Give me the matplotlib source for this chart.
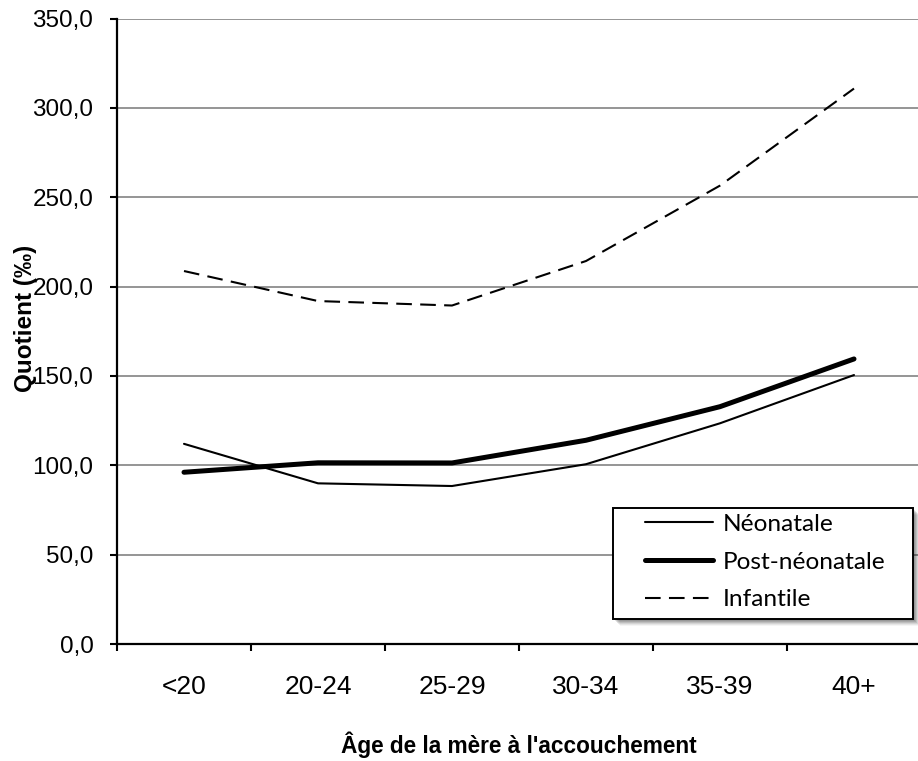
import matplotlib
matplotlib.use("Agg")
import matplotlib.pyplot as plt
from matplotlib.ticker import FixedLocator, FuncFormatter
from matplotlib.patches import Rectangle

# Quotients de mortalité (‰) selon l'âge de la mère
age_groups = ["<20", "20-24", "25-29", "30-34", "35-39", "40+"]
neonatale = [112.0, 89.9, 88.4, 100.6, 123.5, 150.5]
post_neonatale = [96.1, 101.4, 101.3, 114.0, 132.8, 159.5]
infantile = [208.7, 191.9, 189.4, 214.3, 256.5, 310.8]
y_ticks = [0, 50, 100, 150, 200, 250, 300, 350]

W, H = 918, 761
AXFONT = "Liberation Sans"
LEGFONT = "Lato"

fig = plt.figure(figsize=(W / 100, H / 100), dpi=100)
ax = fig.add_axes([117 / W, 1 - 644 / H, 804 / W, (644 - 18.5) / H])

x = list(range(len(age_groups)))
l1, = ax.plot(x, neonatale, color="black", lw=1.5, label="Néonatale",
              solid_capstyle="round")
l2, = ax.plot(x, post_neonatale, color="black", lw=3.6,
              label="Post-néonatale", solid_capstyle="round")
l3, = ax.plot(x, infantile, color="black", lw=1.5, dashes=(7.5, 4),
              label="Infantile")

ax.set_xlim(-0.5, len(age_groups) - 0.5)
ax.set_ylim(y_ticks[0], y_ticks[-1])

# horizontal grid
ax.yaxis.grid(True, color="#8c8c8c", lw=1.3)
ax.set_axisbelow(True)

for side in ("top", "right"):
    ax.spines[side].set_visible(False)
for side in ("left", "bottom"):
    ax.spines[side].set_linewidth(1.6)
    ax.spines[side].set_color("black")

ax.yaxis.set_major_locator(FixedLocator(y_ticks))
ax.yaxis.set_major_formatter(
    FuncFormatter(lambda v, p: f"{v:.1f}".replace(".", ",")))
ax.tick_params(axis="y", direction="out", length=5, width=1.5, pad=12,
               labelsize=17.5, colors="black")

ax.set_xticks(x)
ax.set_xticklabels(age_groups)
ax.set_xticks([i - 0.5 for i in range(len(age_groups) + 1)], minor=True)
ax.tick_params(axis="x", which="major", length=0, pad=22, labelsize=19)
ax.tick_params(axis="x", which="minor", direction="out", length=5, width=1.5)

for lab in ax.get_xticklabels() + ax.get_yticklabels():
    lab.set_fontfamily(AXFONT)

fig.text(26 / W, 1 - 318 / H, "Quotient (‰)", rotation=90, ha="center",
         va="center", fontsize=17.5, fontweight="bold",
         family=[AXFONT, "DejaVu Sans"])
fig.text(519 / W, 1 - 745 / H, "Âge de la mère à l'accouchement",
         ha="center", va="center", fontsize=16.3, fontweight="bold",
         family=AXFONT)

# legend frame with a soft drop shadow
lx0, ly0, lx1, ly1 = 613, 508, 913, 619
for k, a in enumerate([0.10, 0.10, 0.10, 0.10, 0.08, 0.06, 0.04]):
    off = k + 1
    fig.patches.append(Rectangle(((lx0 + off) / W, 1 - (ly1 + off) / H),
                                 (lx1 - lx0) / W, (ly1 - ly0) / H,
                                 transform=fig.transFigure, facecolor="black",
                                 edgecolor="none", alpha=a, zorder=5))
fig.patches.append(Rectangle((lx0 / W, 1 - ly1 / H), (lx1 - lx0) / W,
                             (ly1 - ly0) / H, transform=fig.transFigure,
                             facecolor="white", edgecolor="black", lw=1.4,
                             zorder=6))

leg = fig.legend(handles=[l1, l2, l3], loc="center left",
                 bbox_to_anchor=(645 / W, 1 - 562 / H),
                 bbox_transform=fig.transFigure, frameon=False,
                 prop={"family": LEGFONT, "size": 17.6}, handlelength=2.8,
                 handletextpad=0.38, labelspacing=0.68, borderpad=0,
                 borderaxespad=0)
leg.set_zorder(7)

fig.savefig("out.png", dpi=100, facecolor="white")
